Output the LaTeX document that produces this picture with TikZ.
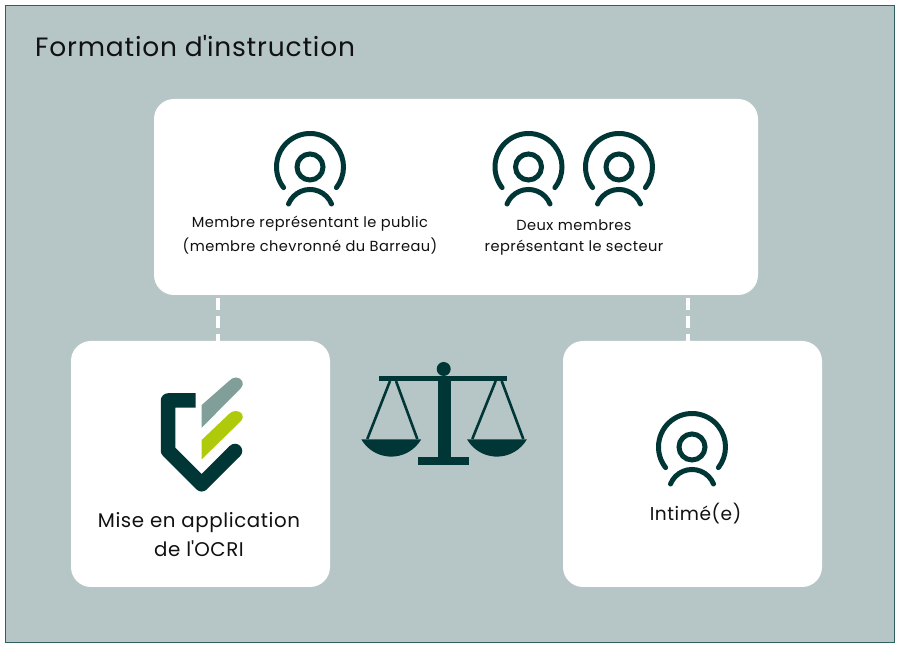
\documentclass[tikz,border=0pt]{standalone}
\usepackage{fontspec}
\setmainfont[LetterSpace=3]{Poppins}
\newfontfamily\plainpop[LetterSpace=3]{Poppins}
\definecolor{bgc}{HTML}{B6C6C6}
\definecolor{dark}{HTML}{003636}
\definecolor{edge}{HTML}{2F5F5F}
\definecolor{sage}{HTML}{7F9F98}
\definecolor{lime}{HTML}{AFCA0B}
\definecolor{ink}{HTML}{111111}
\newcommand{\apos}{{\plainpop\char39}}
\tikzset{
  card/.style={fill=white,draw=none,rounded corners=20pt,minimum width=0pt},
  dashline/.style={draw=white,line width=3.4pt,dash pattern=on 12pt off 6pt},
  small/.style={text=ink,font=\fontsize{14.6}{17}\selectfont,align=center,inner sep=0pt},
  big/.style={text=ink,font=\fontsize{19.8}{28}\selectfont,align=center,inner sep=0pt},
  iconline/.style={draw=dark,line width=5pt,line cap=round},
  rope/.style={draw=dark,line width=2.6pt},
  person/.pic={
    \draw[iconline] (218:33.5pt) arc (218:-38:33.5pt);
    \draw[iconline] (0,0) circle (13pt);
    \draw[iconline] (-21.5,-37) arc (158:22:23.2pt);
  }
}
\begin{document}
\begin{tikzpicture}[x=1pt,y=1pt]
\useasboundingbox (0,0) rectangle (900,647);
\fill[white] (0,0) rectangle (900,647);
\draw[fill=bgc,draw=edge,line width=1pt] (5,4) rectangle (894,641);
\node[anchor=base west,text=ink,font=\fontsize{26.5}{28}\selectfont,inner sep=0pt] (title) at (35,590) {Formation d\apos instruction};
% cards
\path[card] (154,352) rectangle (758,548);
\coordinate (topL) at (218,349);
\coordinate (topR) at (688,349);
\coordinate (leftT) at (218,306);
\coordinate (rightT) at (688,306);
\path[card] (71,60) rectangle (330,306);
\path[card] (563,60) rectangle (822,306);
\draw[dashline] (topL) -- (leftT);
\draw[dashline] (topR) -- (rightT);
% people
\pic at (310,480) {person};
\pic at (528.5,480) {person};
\pic at (619,480) {person};
\pic at (692,200) {person};
\node[small] (pubA) at (310,423.5) {Membre représentant le public};
\node[small] (pubB) at (310,401) {(membre chevronné du Barreau)};
\node[small] (secA) at (574,422) {Deux membres};
\node[small] (secB) at (574,399.5) {représentant le secteur};
\node[big] (ocA) at (199,124) {Mise en application};
\node[big] (ocB) at (199,98.5) {de l\apos OCRI};
\node[big,font=\fontsize{18.6}{28}\selectfont] (inti) at (695.5,133.5) {Intimé(e)};
% logo
\draw[dark,line width=14.5pt,line join=round] (195.7,246.5) -- (168,246.5) -- (168,196.4) -- (201.7,162.7) -- (235,196);
\fill[dark] (235,196) circle (7.25pt);
\fill[sage] (201.7,219.3) -- (241,259) .. controls (245,263) and (242,269.5) .. (236,269.5) .. controls (233,269.5) and (231,268) .. (229,266) -- (201.7,242) -- cycle;
\fill[lime] (201.7,187.7) -- (241,226) .. controls (245,230) and (242,236) .. (236,236) .. controls (233,236) and (231,235) .. (229,233) -- (201.7,207) -- cycle;
% scales
\fill[dark] (379.3,265.7) rectangle (506.7,271);
\fill[dark] (443.7,278) circle (7pt);
\fill[dark] (438.3,190.3) rectangle (450.7,266);
\fill[dark] (418.3,182.3) rectangle (469.3,190.3);
\fill[dark] (361.3,207.7) arc (210:330:34.6pt) -- cycle;
\fill[dark] (467,207.7) arc (210:330:34.6pt) -- cycle;
\draw[rope] (390,266) -- (367.3,208);
\draw[rope] (396,266) -- (417.3,208);
\draw[rope] (495.7,266) -- (472.3,208);
\draw[rope] (501.7,266) -- (523.3,208);
\end{tikzpicture}
\end{document}
